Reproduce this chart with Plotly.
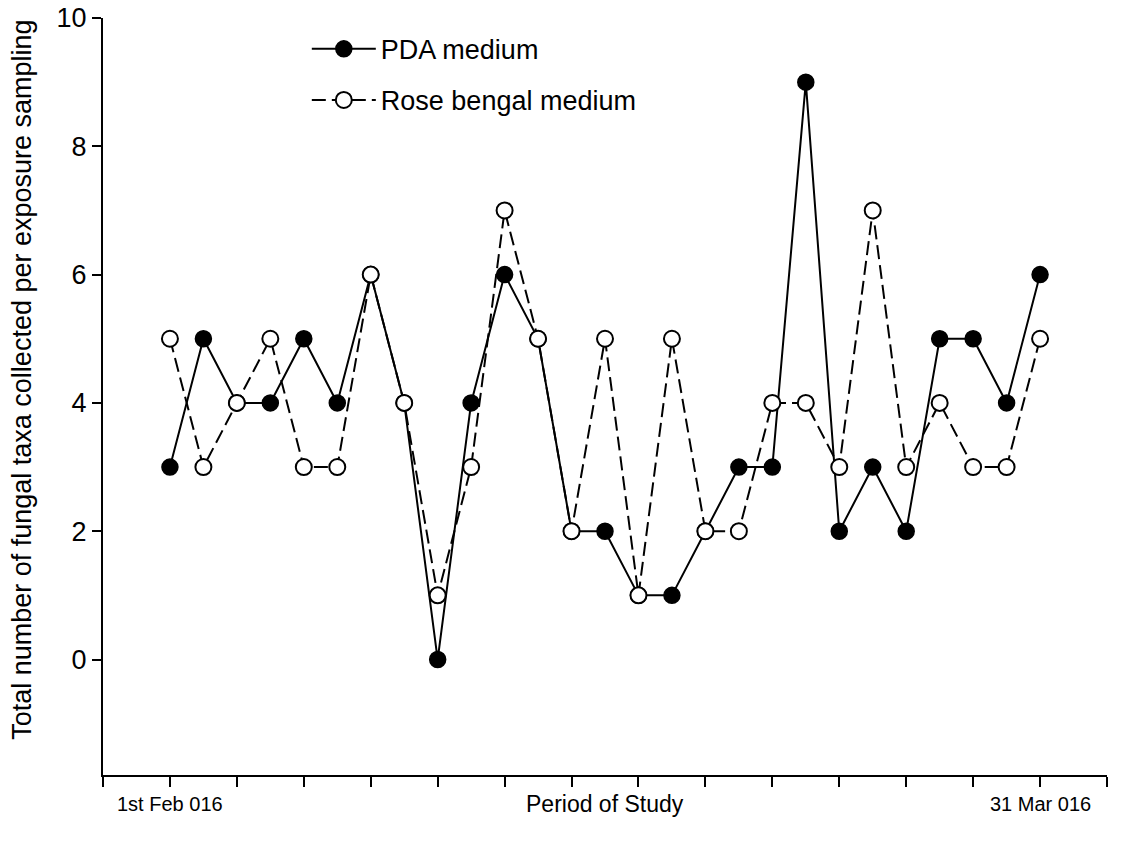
import plotly.graph_objects as go

sample_index = list(range(27))
pda_medium = [3, 5, 4, 4, 5, 4, 6, 4, 0, 4, 6, 5, 2, 2, 1, 1, 2, 3, 3, 9, 2, 3, 2, 5, 5, 4, 6]
rose_bengal = [5, 3, 4, 5, 3, 3, 6, 4, 1, 3, 7, 5, 2, 5, 1, 5, 2, 2, 4, 4, 3, 7, 3, 4, 3, 3, 5]
y_ticks = [0, 2, 4, 6, 8, 10]
x_ticks = list(range(-2, 29, 2))
start_label = "1st Feb 016"
end_label = "31 Mar 016"
y_title = "Total number of fungal taxa collected per exposure sampling"
x_title = "Period of Study"

FONT = "Liberation Sans, Arial, sans-serif"

fig = go.Figure()
fig.add_trace(go.Scatter(
    x=sample_index, y=pda_medium, mode="lines+markers", name="PDA medium",
    legendgroup="a",
    line=dict(color="black", width=2),
    marker=dict(symbol="circle", size=16, color="black", line=dict(color="black", width=1.5)),
))
fig.add_trace(go.Scatter(
    x=sample_index, y=rose_bengal, mode="lines+markers", name="Rose bengal medium",
    legendgroup="b",
    line=dict(color="black", width=2, dash="14px,6px"),
    marker=dict(symbol="circle", size=16, color="white", line=dict(color="black", width=2)),
))

fig.update_layout(
    width=1130, height=850,
    margin=dict(l=103, r=23, t=18, b=75, autoexpand=False),
    plot_bgcolor="white", paper_bgcolor="white",
    font=dict(family=FONT, color="black"),
    showlegend=True,
    legend=dict(
        x=0.203, y=0.991, xanchor="left", yanchor="top",
        bgcolor="rgba(0,0,0,0)", font=dict(size=27, family=FONT),
        tracegroupgap=13, itemwidth=64,
    ),
    xaxis=dict(
        range=[-2, 28], tickvals=x_ticks, showticklabels=False,
        ticks="outside", ticklen=10, tickwidth=2, tickcolor="black",
        showline=True, linecolor="black", linewidth=2,
        showgrid=False, zeroline=False, automargin=False,
    ),
    yaxis=dict(
        range=[-1.8, 10], tickvals=y_ticks,
        ticks="outside", ticklen=9, tickwidth=2, tickcolor="black",
        showline=True, linecolor="black", linewidth=2,
        showgrid=False, zeroline=False, automargin=False,
        tickfont=dict(size=27, family=FONT),
    ),
    annotations=[
        dict(x=0, y=0.522, xref="paper", yref="paper", xshift=-81, text=y_title,
             textangle=-90, showarrow=False, font=dict(size=27, family=FONT),
             xanchor="center", yanchor="middle"),
        dict(x=0, y=0, xref="x", yref="paper", yshift=-29, text=start_label,
             showarrow=False, font=dict(size=20, family=FONT), xanchor="center", yanchor="middle"),
        dict(x=26, y=0, xref="x", yref="paper", yshift=-29, text=end_label,
             showarrow=False, font=dict(size=20, family=FONT), xanchor="center", yanchor="middle"),
        dict(x=0.5, y=0, xref="paper", yref="paper", yshift=-29, text=x_title,
             showarrow=False, font=dict(size=23, family=FONT), xanchor="center", yanchor="middle"),
    ],
)

fig.write_html("out.html")
